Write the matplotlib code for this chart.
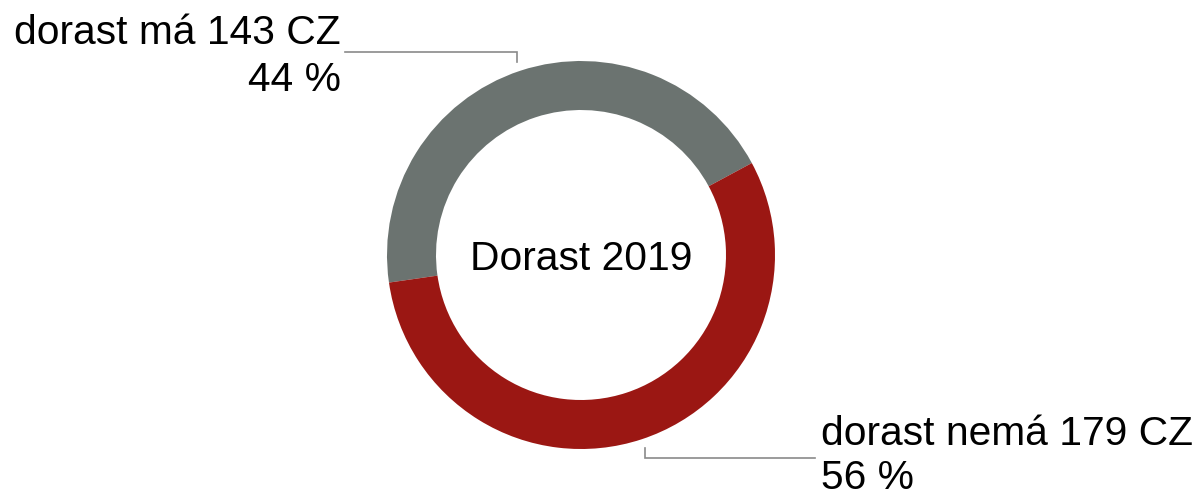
import matplotlib
matplotlib.use("Agg")
import matplotlib.pyplot as plt

labels = ["dorast má 143 CZ", "dorast nemá 179 CZ"]
values = [143, 179]
percents = ["44 %", "56 %"]
colors = ["#6B7370", "#9B1713"]
center_title = "Dorast 2019"

W, H = 1201, 499
fig = plt.figure(figsize=(W / 100, H / 100), dpi=100)
ax = fig.add_axes([0, 0, 1, 1])

cx, cy, R = 581, H - 255, 194
ax.pie(values, colors=colors, startangle=28.3, counterclock=True,
       center=(cx, cy), radius=R, wedgeprops=dict(width=49, linewidth=0),
       frame=True)
ax.set_xlim(0, W)
ax.set_ylim(0, H)
ax.set_aspect("equal")
ax.axis("off")

font = "Liberation Sans"
fs = 29.3
ax.text(cx, H - 270, center_title, ha="center", va="baseline", fontsize=fs,
        family=font)

# leader lines
lc = "#8a8a8a"
ax.plot([345, 517, 517], [H - 52, H - 52, H - 62], color=lc, lw=1.2,
        solid_joinstyle="miter")
ax.plot([645, 645, 815], [H - 448, H - 458, H - 458], color=lc, lw=1.2,
        solid_joinstyle="miter")

ax.text(341, H - 44, labels[0], ha="right", va="baseline", fontsize=fs, family=font)
ax.text(341, H - 91, percents[0], ha="right", va="baseline", fontsize=fs, family=font)
ax.text(821, H - 445, labels[1], ha="left", va="baseline", fontsize=fs, family=font)
ax.text(821, H - 489, percents[1], ha="left", va="baseline", fontsize=fs, family=font)

fig.savefig("out.png", dpi=100)
